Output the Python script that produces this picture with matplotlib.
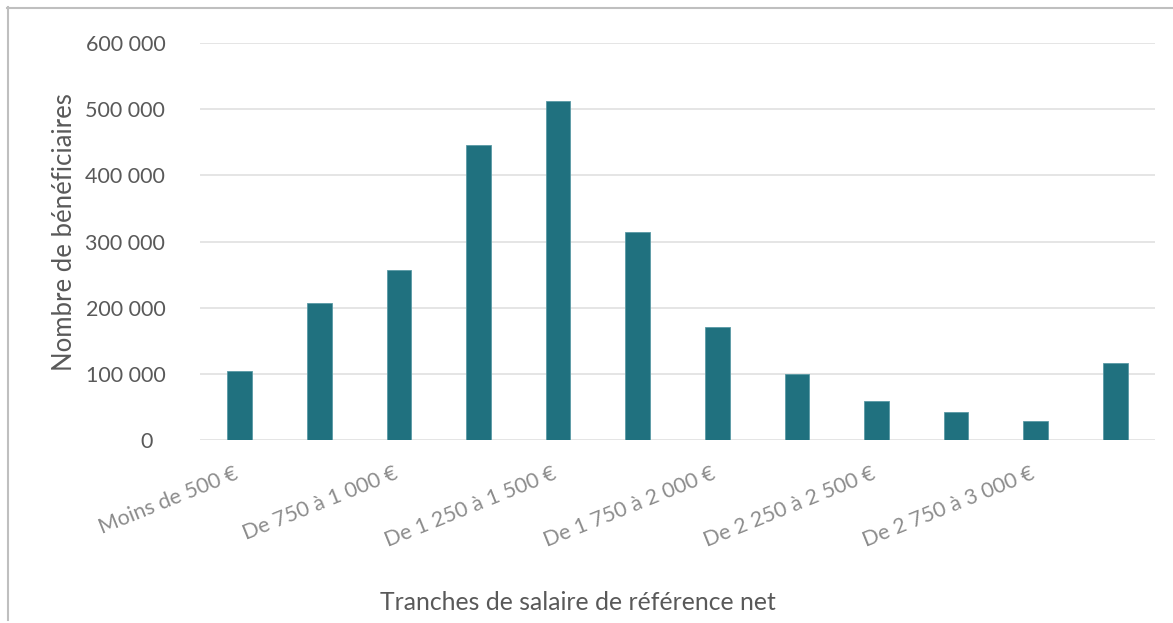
import matplotlib
matplotlib.use("Agg")
import matplotlib.pyplot as plt
import matplotlib.transforms as mtransforms
from matplotlib.lines import Line2D

# Data
categories = ["Moins de 500 €", "De 500 à 750 €", "De 750 à 1 000 €",
              "De 1 000 à 1 250 €", "De 1 250 à 1 500 €", "De 1 500 à 1 750 €",
              "De 1 750 à 2 000 €", "De 2 000 à 2 250 €", "De 2 250 à 2 500 €",
              "De 2 500 à 2 750 €", "De 2 750 à 3 000 €", "Plus de 3 000 €"]
beneficiaires = [104000, 207000, 257000, 446500, 512000, 314000,
                 171000, 99000, 59500, 42000, 29000, 117000]
yticks = [0, 100000, 200000, 300000, 400000, 500000, 600000]
ytick_labels = ["0", "100 000", "200 000", "300 000", "400 000", "500 000", "600 000"]

bar_color = "#20717f"
text_dark = "#595959"
text_light = "#8c8c8c"

plt.rcParams["font.family"] = ["Lato", "DejaVu Sans"]

fig = plt.figure(figsize=(11.73, 6.23), dpi=100)
ax = fig.add_axes([200 / 1173, 1 - 440 / 623, 955 / 1173, 397 / 623])

x = list(range(len(categories)))
ax.bar(x, beneficiaires, width=0.31, color=bar_color, edgecolor="#5a9aa5", linewidth=0.6, zorder=3)

ax.set_xlim(-0.5, len(categories) - 0.5)
ax.set_ylim(0, 600000)
ax.set_yticks(yticks)
ax.set_yticklabels(ytick_labels)
ax.grid(axis="y", color="#e3e3e3", linewidth=1.3, zorder=0)
for s in ax.spines.values():
    s.set_visible(False)

ax.tick_params(axis="y", length=0, pad=25, labelsize=15.5, labelcolor=text_dark)
# the "0" sits a bit left of the other labels
zero_lbl = ax.get_yticklabels()[0]
zero_lbl.set_transform(zero_lbl.get_transform() + mtransforms.ScaledTranslation(-13 / 100, 0, fig.dpi_scale_trans))

# only every other category gets a label
ax.set_xticks(x[::2])
ax.set_xticklabels(categories[::2], rotation=22, ha="right", va="top",
                   rotation_mode="anchor", color=text_light, fontsize=15.5)
ax.tick_params(axis="x", length=0, pad=17)
for lbl in ax.get_xticklabels():
    lbl.set_transform(lbl.get_transform() + mtransforms.ScaledTranslation(-6 / 100, 0, fig.dpi_scale_trans))

fig.text(65 / 1173, 1 - 232 / 623, "Nombre de bénéficiaires", rotation=90,
         ha="center", va="center", fontsize=18.5, color=text_dark)
fig.text(578 / 1173, 1 - 603 / 623, "Tranches de salaire de référence net",
         ha="center", va="center", fontsize=17.8, color=text_dark)

# chart frame (top and left edges visible in the crop)
fig.add_artist(Line2D([7 / 1173, 1.0], [1 - 7.5 / 623] * 2, color="#bfbfbf", linewidth=1.5,
                      transform=fig.transFigure))
fig.add_artist(Line2D([7.5 / 1173] * 2, [1 - 7 / 623, 1 - 620 / 623], color="#bfbfbf", linewidth=1.5,
                      transform=fig.transFigure))

fig.savefig("out.png", dpi=100, facecolor="white")
